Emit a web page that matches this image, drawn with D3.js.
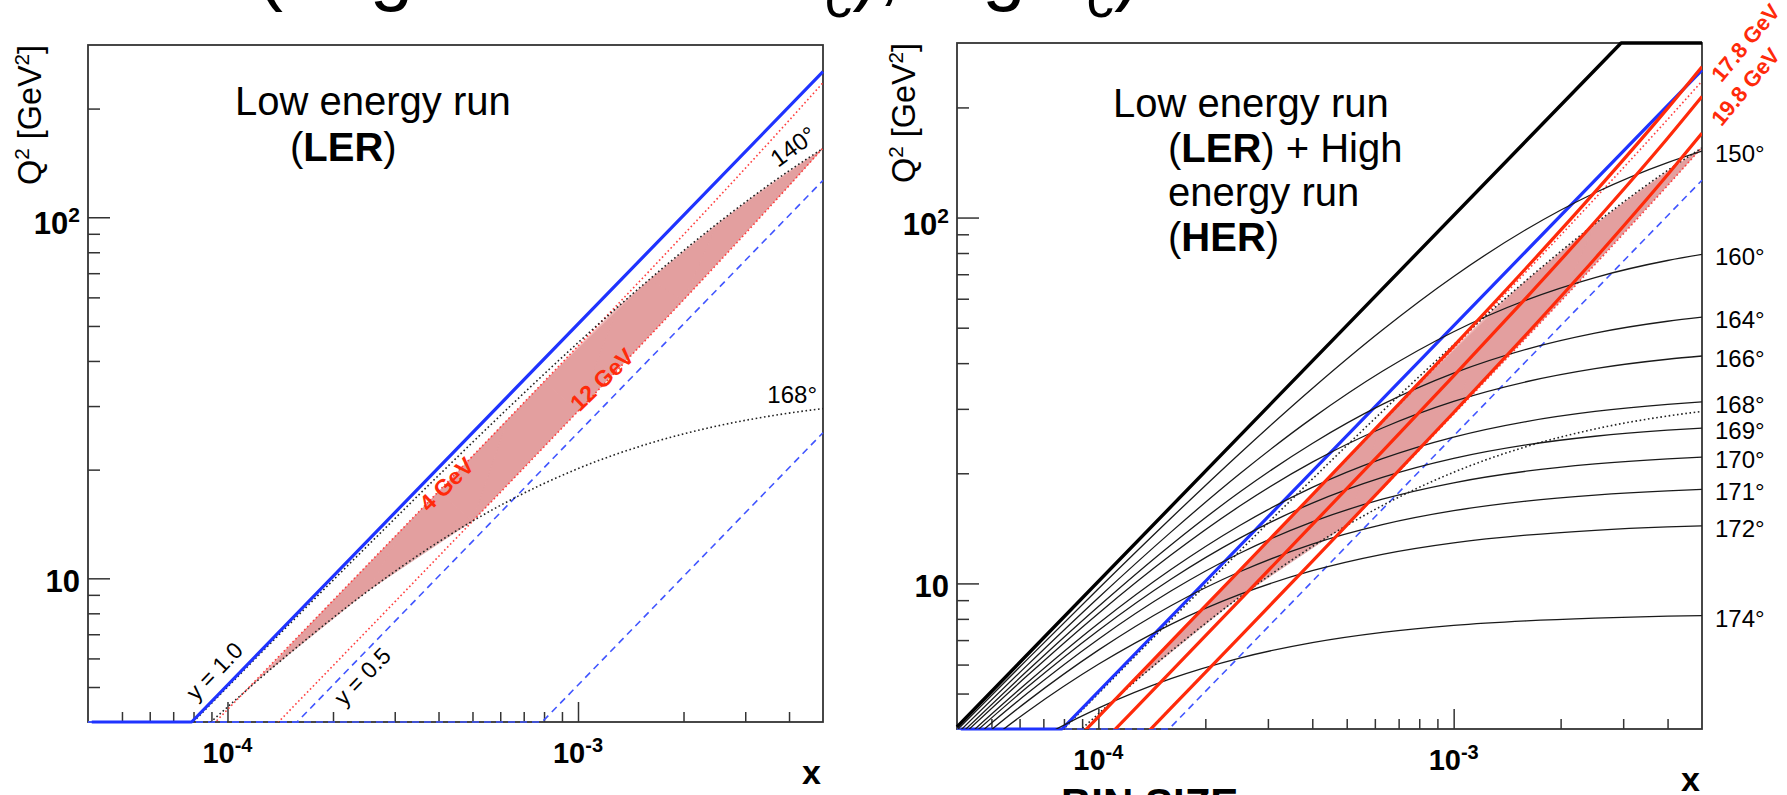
<!DOCTYPE html>
<html>
<head>
<meta charset="utf-8">
<title>x - Q2 plane, LER and HER</title>
<script src="https://cdn.jsdelivr.net/npm/d3@7"></script>
<style>
  body { margin: 0; background: #fff; }
  svg text { font-family: "Liberation Sans", Arial, Helvetica, sans-serif; }
</style>
</head>
<body>
<svg id="chart" width="1787" height="795"></svg>
<script>
// ===================== DATA =====================
// x values where the curves were read off the picture
const xGrid = [4e-5, 6.3e-5, 1e-4, 1.6e-4, 2.5e-4, 4e-4, 6.3e-4, 1e-3, 1.6e-3, 2.5e-3, 4e-3, 5e-3];

// Low energy run: lines of constant electron angle (Q2 at xGrid)
const ler140 = [2.01, 3.16, 5.00, 7.94, 12.26, 19.27, 29.53, 44.93, 67.35, 96.15, 134.5, 155.1];
const ler168 = [1.91, 2.91, 4.40, 6.52, 9.18, 12.61, 16.32, 20.13, 23.65, 26.43, 28.68, 29.52];
// Low energy run: lines of constant scattered electron energy
const ler4GeV = [1.73, 2.73, 4.33, 6.94, 10.86, 17.41, 27.53, 43.98, 71.09, 112.8, 185.4, 235.9];
const ler12GeV = [1.14, 1.80, 2.86, 4.58, 7.16, 11.49, 18.16, 29.01, 46.89, 74.41, 122.3, 155.6];

// Low energy run: constant y lines (flat on the Q2 floor, then diagonal)
const lerY1X = [4.1e-5, 7.9e-5, 5e-3];
const lerY1Q2 = [4, 4, 253];
const lerY05X = [4e-5, 1.58e-4, 5e-3];
const lerY05Q2 = [4, 4, 126.5];
const lerY01X = [4e-5, 7.9e-4, 5e-3];
const lerY01Q2 = [4, 4, 25.3];

// High energy run: y = 1, capped at the top of the plot
const herY1X = [4e-5, 2.96e-3, 5e-3];
const herY1Q2 = [4.05, 300, 300];

// High energy run: constant electron angle (Q2 at xGrid)
const herAngles = [150, 160, 164, 166, 168, 169, 170, 171, 172, 174];
const herAngleQ2 = [
    [3.97, 6.19, 9.67, 15.07, 22.66, 34.12, 49.29, 69.03, 92.76, 116.9, 141.4, 152.0],
    [3.88, 5.97, 9.14, 13.81, 19.94, 28.30, 38.00, 48.75, 59.50, 68.57, 76.32, 79.31],
    [3.79, 5.76, 8.65, 12.74, 17.77, 24.13, 30.85, 37.57, 43.64, 48.33, 52.07, 53.44],
    [3.72, 5.59, 8.28, 11.95, 16.27, 21.45, 26.59, 31.44, 35.58, 38.64, 40.99, 41.84],
    [3.61, 5.35, 7.77, 10.91, 14.40, 18.31, 21.93, 25.12, 27.70, 29.52, 30.87, 31.35],
    [3.54, 5.20, 7.44, 10.27, 13.30, 16.57, 19.48, 21.96, 23.91, 25.25, 26.23, 26.58],
    [3.45, 5.00, 7.04, 9.53, 12.09, 14.73, 16.99, 18.84, 20.26, 21.21, 21.90, 22.14],
    [3.33, 4.76, 6.57, 8.69, 10.76, 12.81, 14.48, 15.81, 16.79, 17.44, 17.91, 18.07],
    [3.18, 4.46, 6.01, 7.73, 9.33, 10.83, 12.01, 12.91, 13.55, 13.97, 14.27, 14.37],
    [2.72, 3.61, 4.56, 5.49, 6.25, 6.89, 7.35, 7.68, 7.90, 8.04, 8.14, 8.17]
];

// High energy run: constant scattered electron energy (15.8, 17.8, 19.8 GeV)
const herEnergyQ2 = [
    [1.72, 2.72, 4.32, 6.93, 10.86, 17.46, 27.71, 44.55, 72.79, 117.5, 198.8, 258.5],
    [1.43, 2.25, 3.58, 5.74, 9.00, 14.47, 22.97, 36.93, 60.34, 97.39, 164.8, 214.3],
    [1.14, 1.79, 2.84, 4.56, 7.14, 11.49, 18.24, 29.32, 47.90, 77.31, 130.9, 170.1]
];

// accepted LER region (pink band): upper and lower Q2 edge
const bandX = [1.11e-4, 1.3e-4, 1.6e-4, 2e-4, 2.5e-4, 3.2e-4, 4e-4, 5e-4, 6.3e-4, 8e-4,
    1e-3, 1.3e-3, 1.6e-3, 2e-3, 2.5e-3, 3.2e-3, 4e-3, 5e-3];
const bandUpper = [4.81, 5.63, 6.94, 8.68, 10.86, 13.91, 17.41, 21.80, 27.53, 35.06,
    43.98, 56.51, 67.35, 80.80, 96.15, 115.3, 134.5, 155.1];
const bandLower = [4.81, 5.50, 6.52, 7.77, 9.18, 10.91, 12.61, 14.40, 18.16, 23.13,
    29.01, 37.90, 46.89, 59.01, 74.41, 96.43, 122.3, 155.1];

// axes
const xDomain = [4e-5, 5e-3];
const yDomain = [4, 300];
const xMajor = [1e-4, 1e-3];
const xMajorExp = ["-4", "-3"];
const xMinor = [5e-5, 6e-5, 7e-5, 8e-5, 9e-5, 2e-4, 3e-4, 4e-4, 5e-4, 6e-4, 7e-4, 8e-4, 9e-4, 2e-3, 3e-3, 4e-3];
const yMajor = [10, 100];
const yMajorExp = ["", "2"];
const yMinor = [5, 6, 7, 8, 9, 20, 30, 40, 50, 60, 70, 80, 90, 200];

// ===================== SETUP =====================
const svg = d3.select("#chart");
svg.append("rect").attr("width", 1787).attr("height", 795).attr("fill", "#fff");

// the two pads (pixel frames)
const frames = [
    { left: 88, top: 45, right: 823, bottom: 722, titleGap: 47 },
    { left: 957, top: 43, right: 1702, bottom: 729, titleGap: 42 }
];

const blue = "#1f33ff", red = "#ff2a0a";
const styles = {
    yLine: { color: blue, width: 3.2 },
    yDash: { color: "#4055ff", width: 1.6, dash: "7,5" },
    angleDot: { color: "#222", width: 1.6, dash: "1.6,2.6", smooth: true },
    energyDot: { color: "#ff3d3d", width: 1.6, dash: "1.6,2.6", smooth: true },
    herAngle: { color: "#1a1a1a", width: 1.3, smooth: true },
    herEnergy: { color: red, width: 3.2, smooth: true },
    herY1: { color: "#000", width: 3.4 }
};

function makePanel(f, i) {
    const w = f.right - f.left, h = f.bottom - f.top;
    const g = svg.append("g").attr("transform", `translate(${f.left},${f.top})`);
    const x = d3.scaleLog().domain(xDomain).range([0, w]);
    const y = d3.scaleLog().domain(yDomain).range([h, 0]);
    g.append("clipPath").attr("id", "clip" + i)
        .append("rect").attr("width", w).attr("height", h);
    return { g, x, y, w, h, f, clip: `url(#clip${i})` };
}

function drawAxes(p) {
    const { g, x, y, w, h, f } = p;
    const ticks = (axis, values, size) => axis.tickValues(values).tickSize(size).tickFormat("");
    const addTicks = (sel) => sel.attr("color", "#333")
        .call(a => a.select(".domain").remove())
        .call(a => a.selectAll("line").attr("stroke-width", 1.5));

    g.append("g").attr("transform", `translate(0,${h})`)
        .call(ticks(d3.axisBottom(x), xMajor, -20)).call(addTicks);
    g.append("g").attr("transform", `translate(0,${h})`)
        .call(ticks(d3.axisBottom(x), xMinor, -10)).call(addTicks);
    g.append("g").call(ticks(d3.axisLeft(y), yMajor, -22)).call(addTicks);
    g.append("g").call(ticks(d3.axisLeft(y), yMinor, -12)).call(addTicks);

    // frame
    g.append("rect").attr("width", w).attr("height", h)
        .attr("fill", "none").attr("stroke", "#333").attr("stroke-width", 1.8);

    // tick labels
    xMajor.forEach((v, k) => {
        const t = g.append("text").attr("x", x(v)).attr("y", h + 41)
            .attr("text-anchor", "middle").attr("font-size", 29).attr("font-weight", "bold");
        t.append("tspan").text("10");
        t.append("tspan").attr("dy", -11).attr("font-size", 20).text(xMajorExp[k]);
    });
    yMajor.forEach((v, k) => {
        const t = g.append("text").attr("x", -8).attr("y", y(v) + (yMajorExp[k] ? 17 : 14))
            .attr("text-anchor", "end").attr("font-size", 31).attr("font-weight", "bold");
        t.append("tspan").text("10");
        if (yMajorExp[k]) t.append("tspan").attr("dy", -12).attr("font-size", 21).text(yMajorExp[k]);
    });

    // axis titles
    const yt = g.append("text")
        .attr("transform", `translate(${-f.titleGap},0) rotate(-90)`)
        .attr("text-anchor", "end").attr("font-size", 33)
        .attr("textLength", 140).attr("lengthAdjust", "spacingAndGlyphs");
    yt.append("tspan").text("Q");
    yt.append("tspan").attr("dy", -12).attr("font-size", 21).text("2");
    yt.append("tspan").attr("dy", 12).text(" [GeV");
    yt.append("tspan").attr("dy", -12).attr("font-size", 21).text("2");
    yt.append("tspan").attr("dy", 12).text("]");

    g.append("text").attr("x", w - 2).attr("y", h + 62)
        .attr("text-anchor", "end").attr("font-size", 34).attr("font-weight", "bold").text("x");
}

function drawCurve(p, xs, qs, style, clipped) {
    const gen = d3.line().x(d => p.x(d[0])).y(d => p.y(d[1]))
        .curve(style.smooth ? d3.curveMonotoneX : d3.curveLinear);
    const path = p.g.append("path")
        .datum(xs.map((v, k) => [v, qs[k]]))
        .attr("d", gen)
        .attr("fill", "none")
        .attr("stroke", style.color)
        .attr("stroke-width", style.width)
        .attr("stroke-linejoin", "round");
    if (style.dash) path.attr("stroke-dasharray", style.dash);
    if (clipped) path.attr("clip-path", p.clip);
}

function drawBand(p) {
    const rows = bandX.map((v, k) => [v, bandUpper[k], bandLower[k]]);
    const area = d3.area().x(d => p.x(d[0])).y0(d => p.y(d[2])).y1(d => p.y(d[1]));
    p.g.append("path").datum(rows).attr("d", area).attr("fill", "#fbd0d0");

    // overlapping slanted bins give the streaky look of the band
    const n = rows.length - 1;
    const at = (k, edge) => [rows[Math.min(k, n)][0], rows[Math.min(k, n)][edge]];
    const bins = [];
    for (let k = 0; k < n; k += 3) {
        bins.push([at(k, 1), at(k + 3, 1), at(k + 4, 2), at(k + 1, 2)]);
    }
    for (let k = 1; k < n; k += 3) {
        bins.push([at(k + 1, 1), at(k + 4, 1), at(k + 3, 2), at(k, 2)]);
    }
    const poly = d3.line().x(d => p.x(d[0])).y(d => p.y(d[1]));
    p.g.append("g").selectAll("path").data(bins).join("path")
        .attr("d", d => poly(d) + "Z")
        .attr("fill", "#d47c7c").attr("fill-opacity", 0.36);
}

// label at a data position, optionally rotated
function note(p, text, xv, qv, angle, size, opts = {}) {
    return p.g.append("text")
        .attr("transform", `translate(${p.x(xv)},${p.y(qv)}) rotate(${angle})`)
        .attr("font-size", size)
        .attr("font-weight", opts.bold ? "bold" : null)
        .attr("fill", opts.color || "#000")
        .attr("text-anchor", opts.anchor || "start")
        .text(text);
}

// text block at an offset from the frame corner
function block(p, dx, dy, parts) {
    const t = p.g.append("text").attr("x", dx).attr("y", dy).attr("font-size", 40);
    parts.forEach(([s, bold]) => t.append("tspan").attr("font-weight", bold ? "bold" : null).text(s));
}

// ===================== LEFT: LER =====================
const p0 = makePanel(frames[0], 0);
drawAxes(p0);
drawBand(p0);
drawCurve(p0, lerY01X, lerY01Q2, styles.yDash, false);
drawCurve(p0, lerY05X, lerY05Q2, styles.yDash, false);
drawCurve(p0, xGrid, ler12GeV, styles.energyDot, true);
drawCurve(p0, xGrid, ler4GeV, styles.energyDot, true);
drawCurve(p0, xGrid, ler168, styles.angleDot, true);
drawCurve(p0, xGrid, ler140, styles.angleDot, true);
drawCurve(p0, lerY1X, lerY1Q2, styles.yLine, false);

block(p0, 147, 70, [["Low energy run", false]]);
block(p0, 202, 116, [["(", false], ["LER", true], [")", false]]);

note(p0, "y = 1.0", 8.13e-5, 4.55, -46, 23);
note(p0, "y = 0.5", 2.15e-4, 4.40, -46, 23);
note(p0, "4 GeV", 3.75e-4, 15.2, -44, 23, { bold: true, color: red });
note(p0, "12 GeV", 1.01e-3, 28.8, -44, 23, { bold: true, color: red });
note(p0, "140°", 3.72e-3, 137, -36, 24);
p0.g.append("text").attr("x", p0.w - 6).attr("y", p0.y(ler168[ler168.length - 1]) - 6)
    .attr("text-anchor", "end").attr("font-size", 24).text("168°");

// ===================== RIGHT: LER + HER =====================
const p1 = makePanel(frames[1], 1);
drawAxes(p1);
drawBand(p1);
drawCurve(p1, lerY05X, lerY05Q2, styles.yDash, false);
drawCurve(p1, xGrid, ler12GeV, styles.energyDot, true);
drawCurve(p1, xGrid, ler4GeV, styles.energyDot, true);
drawCurve(p1, xGrid, ler168, styles.angleDot, true);
drawCurve(p1, xGrid, ler140, styles.angleDot, true);
drawCurve(p1, lerY1X, lerY1Q2, styles.yLine, false);
herAngleQ2.forEach(qs => drawCurve(p1, xGrid, qs, styles.herAngle, true));
herEnergyQ2.forEach(qs => drawCurve(p1, xGrid, qs, styles.herEnergy, true));
drawCurve(p1, herY1X, herY1Q2, styles.herY1, false);

block(p1, 156, 74, [["Low energy run", false]]);
block(p1, 211, 119, [["(", false], ["LER", true], [") + High", false]]);
block(p1, 211, 163, [["energy run", false]]);
block(p1, 211, 208, [["(", false], ["HER", true], [")", false]]);

// angle labels at the right end of each HER curve
herAngles.forEach((a, k) => {
    const qs = herAngleQ2[k];
    p1.g.append("text").attr("x", p1.w + 13).attr("y", p1.y(qs[qs.length - 1]) + 11)
        .attr("font-size", 24).text(a + "°");
});
note(p1, "17.8 GeV", 5.67e-3, 232.8, -50, 22, { bold: true, color: red });
note(p1, "19.8 GeV", 5.67e-3, 176.6, -50, 22, { bold: true, color: red });

// ===================== PAGE TEXT (cropped) =====================
const title = svg.append("text").attr("x", 257).attr("y", -4).attr("font-size", 78);
title.append("tspan").text("(larger bins in W");
title.append("tspan").attr("dy", 21).attr("font-size", 55).text("c");
title.append("tspan").attr("dy", -21).text("), log x");
title.append("tspan").attr("dy", 21).attr("font-size", 55).text("c");
title.append("tspan").attr("dy", -21).text(")");

svg.append("text").attr("x", 1061).attr("y", 818)
    .attr("font-size", 42).attr("font-weight", "bold").text("BIN SIZE");
</script>
</body>
</html>
